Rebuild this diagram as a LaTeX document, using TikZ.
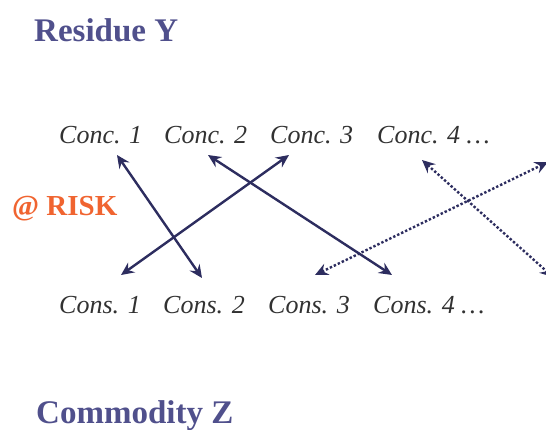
\documentclass[tikz,border=0pt]{standalone}
\usepackage{fontspec}
\setmainfont{Liberation Serif}
\usetikzlibrary{arrows.meta}
\definecolor{titlecol}{RGB}{80,80,140}
\definecolor{txtcol}{RGB}{50,50,50}
\definecolor{arrcol}{RGB}{45,45,95}
\definecolor{riskcol}{RGB}{240,100,48}
\tikzset{
  title/.style={anchor=base west,inner sep=0pt,text=titlecol,font=\fontsize{33}{36}\selectfont\bfseries},
  item/.style={anchor=base west,inner sep=0pt,text=txtcol,font=\fontsize{26}{30}\selectfont\itshape},
  risk/.style={anchor=base west,inner sep=0pt,text=riskcol,font=\fontsize{29}{32}\selectfont\bfseries},
  link/.style={draw=arrcol,line width=2.4pt,{Stealth[length=13pt,width=12pt,inset=4.5pt]}-{Stealth[length=13pt,width=12pt,inset=4.5pt]}},
  dotlink/.style={link,dash pattern=on 2.4pt off 2pt}
}
\begin{document}
\begin{tikzpicture}[x=1pt,y=-1pt]
\useasboundingbox (0,0) rectangle (546,429);
\clip (0,0) rectangle (546,429);
\node[title] (res) at (34,41) {Residue Y};
\node[title] (com) at (36,423) {Commodity Z};
\node[risk] (risk) at (12,215) {@ RISK};
\node[item] (c1) at (59,143) {Conc. 1};
\node[item] (c2) at (164,143) {Conc. 2};
\node[item] (c3) at (270,143) {Conc. 3};
\node[item] (c4) at (377,143) {Conc. 4 …};
\node[item] (s1) at (59,313) {Cons. 1};
\node[item] (s2) at (163,313) {Cons. 2};
\node[item] (s3) at (268,313) {Cons. 3};
\node[item] (s4) at (373,313) {Cons. 4 …};
\coordinate (a1) at (117,155);
\coordinate (b1) at (202,278);
\coordinate (a2) at (289,155);
\coordinate (b2) at (121,275);
\coordinate (a3) at (208,155);
\coordinate (b3) at (392,275);
\coordinate (a4) at (548,162);
\coordinate (b4) at (315,275);
\coordinate (a5) at (422,160);
\coordinate (b5) at (553,277);
\draw[link] (a1) -- (b1);
\draw[link] (a2) -- (b2);
\draw[link] (a3) -- (b3);
\draw[dotlink] (b4) -- (a4);
\draw[dotlink] (a5) -- (b5);
\end{tikzpicture}
\end{document}
